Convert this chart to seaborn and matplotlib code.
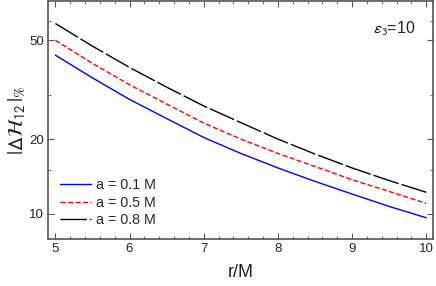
import numpy as np
import pandas as pd
import matplotlib
matplotlib.use("Agg")
import matplotlib.pyplot as plt
import matplotlib.ticker as mticker
import seaborn as sns

r = [5.0, 5.5, 6.0, 6.5, 7.0, 7.5, 8.0, 8.5, 9.0, 9.5, 10.0]
dh_a01 = [43.6, 35.3, 28.9, 24.2, 20.3, 17.5, 15.3, 13.5, 12.0, 10.7, 9.63]
dh_a05 = [50.0, 40.4, 33.1, 27.7, 23.2, 20.0, 17.5, 15.5, 13.7, 12.3, 11.0]
dh_a08 = [58.5, 47.4, 38.9, 32.4, 27.2, 23.3, 20.0, 17.4, 15.3, 13.6, 12.2]
labels = ["a = 0.1 M", "a = 0.5 M", "a = 0.8 M"]

sns.set_theme(style="ticks")
plt.rcParams["font.family"] = ["Liberation Sans", "DejaVu Sans"]
plt.rcParams["mathtext.fontset"] = "stixsans"

fig = plt.figure(figsize=(4.36, 2.86), dpi=100)
ax = fig.add_axes([0.110, 0.164, 0.883, 0.832])

series = [dh_a01, dh_a05, dh_a08]
colors = ["#0000ff", "#ff0000", "#000000"]
styles = ["-", (0, (3.6, 1.8)), (0, (19, 2.2))]
for vals, lab, c, ls in zip(series, labels, colors, styles):
    df = pd.DataFrame({"r": r, "dh": vals})
    sns.lineplot(data=df, x="r", y="dh", color=c, linestyle=ls,
                 linewidth=1.0, label=lab, ax=ax)

ax.set_yscale("log")
ax.set_xlim(4.9, 10.09)
ax.set_ylim(7.9, 72)
ax.yaxis.set_major_locator(mticker.FixedLocator([10, 20, 50]))
ax.yaxis.set_major_formatter(mticker.FixedFormatter(["10", "20", "50"]))
ax.yaxis.set_minor_locator(mticker.FixedLocator([15, 30, 60]))
ax.yaxis.set_minor_formatter(mticker.NullFormatter())
ax.xaxis.set_major_locator(mticker.MultipleLocator(1))
ax.xaxis.set_minor_locator(mticker.MultipleLocator(0.2))

ax.tick_params(which="both", direction="in", top=True, right=True,
               labelsize=9.5, colors="#555555", labelcolor="#222222", pad=3)
ax.tick_params(which="major", length=4, width=0.8)
ax.tick_params(which="minor", length=2.5, width=0.6)
for s in ax.spines.values():
    s.set_color("#555555")
    s.set_linewidth(1.2)

ax.set_xlabel("r/M", fontsize=13, color="#222222", labelpad=6)
ax.set_ylabel(r"$|\Delta\mathcal{H}_{12}\,|_{\%}$", fontsize=15,
              color="#222222", labelpad=1)

ax.text(0.955, 0.885, r"$\epsilon_3$=10", transform=ax.transAxes,
        ha="right", va="center", fontsize=11.5, color="#222222")

ax.legend(loc="lower left", bbox_to_anchor=(0.03, 0.05), frameon=False,
          fontsize=10.3, handlelength=2.2, handletextpad=0.35,
          labelspacing=0.25, borderpad=0, borderaxespad=0)

fig.savefig("out.png", dpi=100)
